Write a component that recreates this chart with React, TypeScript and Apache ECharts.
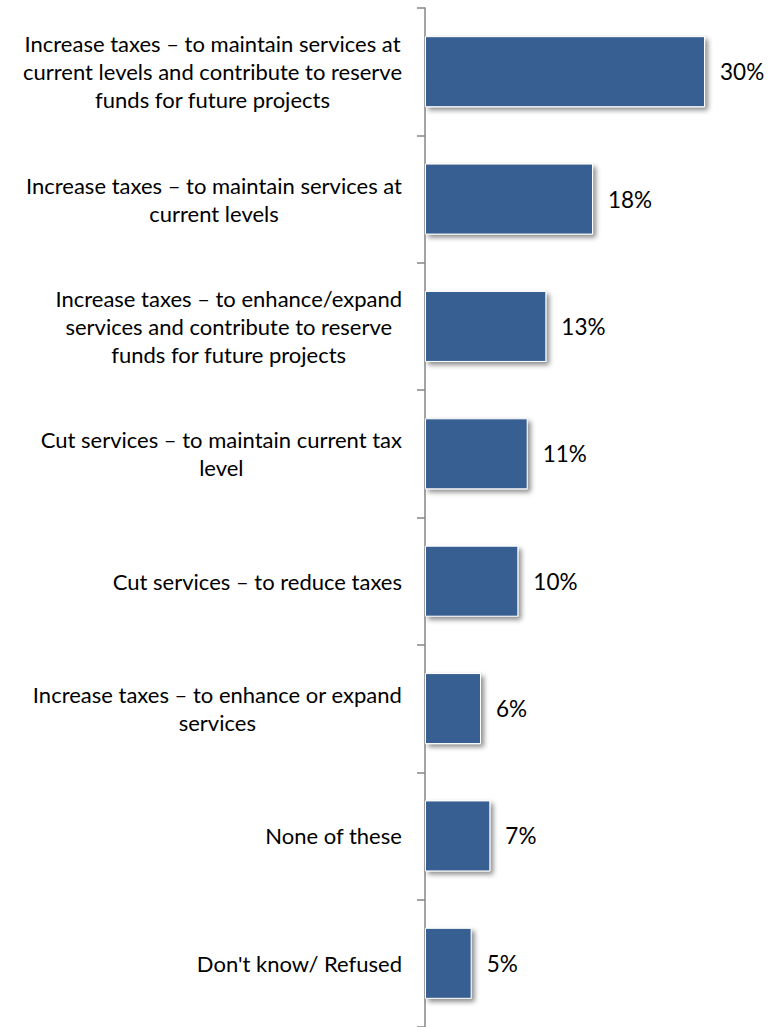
import React, { useEffect, useRef } from "react";
import * as echarts from "echarts";

const categories: string[] = [
  "Increase taxes – to maintain services at\ncurrent levels and contribute to reserve\nfunds for future projects",
  "Increase taxes – to maintain services at\ncurrent levels",
  "Increase taxes – to enhance/expand\nservices and contribute to reserve\nfunds for future projects",
  "Cut services – to maintain current tax\nlevel",
  "Cut services – to reduce taxes",
  "Increase taxes – to enhance or expand\nservices",
  "None of these",
  "Don't know/ Refused",
];
const values: number[] = [30, 18, 13, 11, 10, 6, 7, 5];

const FONT = "Lato, 'Noto Sans', sans-serif";

export default function App() {
  const ref = useRef<HTMLDivElement>(null);
  useEffect(() => {
    document.body.style.margin = "0";
    const chart = echarts.init(ref.current!, null, { renderer: "svg" });
    chart.setOption({
      animation: false,
      grid: { left: 425, top: 8, width: 326.7, height: 1022 },
      xAxis: { type: "value", min: 0, max: 35, show: false },
      yAxis: {
        type: "category",
        inverse: true,
        data: categories,
        axisLine: { show: true, lineStyle: { color: "#868686", width: 1.5 } },
        axisTick: { show: true, length: 8, lineStyle: { color: "#868686", width: 1.5 } },
        axisLabel: {
          margin: 23,
          align: "right",
          color: "#000",
          fontFamily: FONT,
          fontSize: 22,
          lineHeight: 28,
          formatter: (v: string) =>
            v
              .split("\n")
              .map((l) => "{c|" + l + "}")
              .join("\n"),
          rich: {
            c: { align: "center", fontFamily: FONT, fontSize: 22, lineHeight: 28, color: "#000" },
          },
        },
        splitLine: { show: false },
      },
      series: [
        {
          type: "bar",
          data: values,
          barWidth: 71,
          itemStyle: {
            color: "#375F92",
            borderColor: "#ffffff",
            borderWidth: 1,
            shadowColor: "rgba(0,0,0,0.45)",
            shadowBlur: 5,
            shadowOffsetX: 3,
            shadowOffsetY: 3,
          },
          label: {
            show: true,
            position: "right",
            distance: 15,
            formatter: "{c}%",
            color: "#000",
            fontFamily: FONT,
            fontSize: 22.5,
          },
        },
      ],
    });
    return () => chart.dispose();
  }, []);
  return <div ref={ref} style={{ width: 780, height: 1027 }} />;
}
